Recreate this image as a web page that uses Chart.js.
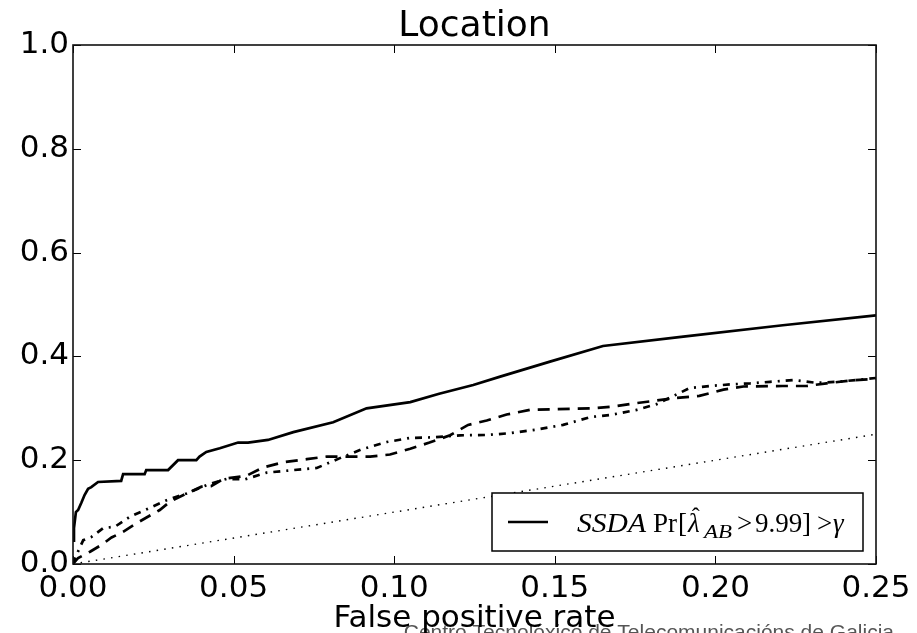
<!DOCTYPE html>
<html><head><meta charset="utf-8">
<script src="https://cdn.jsdelivr.net/npm/chart.js@4.4.1/dist/chart.umd.min.js"></script>
<style>html,body{margin:0;padding:0;background:#fff;overflow:hidden}</style>
</head><body>
<canvas id="c" width="917" height="633"></canvas>
<script>
// ---- data ----
const titleText = 'Location';
const xAxisTitle = 'False positive rate';
const watermarkText = 'Centro Tecnolóxico de Telecomunicacións de Galicia';
const xTickLabels = ['0.00', '0.05', '0.10', '0.15', '0.20', '0.25'];
const yTickLabels = ['0.0', '0.2', '0.4', '0.6', '0.8', '1.0'];
const seriesLabels = ['SSDA Pr[λ̂AB>9.99]>γ', 'dashed curve', 'dash-dot curve', 'chance'];

const ssdaX = [0, 0.0003, 0.0009, 0.0016, 0.0026, 0.0036, 0.0047, 0.0057, 0.0078, 0.015, 0.0156, 0.0223, 0.0228, 0.0296, 0.0327, 0.0384, 0.0394, 0.0415, 0.0457, 0.0514, 0.0545, 0.0607, 0.0686, 0.081, 0.0914, 0.105, 0.114, 0.1246, 0.133, 0.1485, 0.165, 0.19, 0.221, 0.25];
const ssdaY = [0.045, 0.069, 0.100, 0.104, 0.118, 0.133, 0.145, 0.148, 0.158, 0.160, 0.173, 0.173, 0.181, 0.181, 0.200, 0.200, 0.207, 0.216, 0.223, 0.234, 0.234, 0.239, 0.254, 0.273, 0.300, 0.312, 0.328, 0.345, 0.361, 0.390, 0.420, 0.438, 0.460, 0.479];

const dashedX = [0, 0.0006, 0.0016, 0.0053, 0.0088, 0.012, 0.0156, 0.0188, 0.0233, 0.027, 0.0302, 0.0354, 0.040, 0.043, 0.0468, 0.054, 0.0592, 0.0655, 0.0728, 0.079, 0.0925, 0.0987, 0.105, 0.111, 0.1174, 0.123, 0.1288, 0.135, 0.1423, 0.1495, 0.162, 0.169, 0.1755, 0.188, 0.195, 0.2025, 0.2087, 0.221, 0.2284, 0.2346, 0.242, 0.25];
const dashedY = [0, 0.0044, 0.0116, 0.0237, 0.0366, 0.051, 0.062, 0.075, 0.091, 0.104, 0.120, 0.136, 0.149, 0.150, 0.164, 0.170, 0.186, 0.196, 0.202, 0.207, 0.207, 0.211, 0.222, 0.234, 0.248, 0.268, 0.2765, 0.288, 0.297, 0.298, 0.300, 0.304, 0.310, 0.320, 0.324, 0.336, 0.342, 0.343, 0.343, 0.348, 0.3536, 0.3565];

const dashDotX = [0, 0.0009, 0.0032, 0.0057, 0.0094, 0.0131, 0.0177, 0.0224, 0.0292, 0.0354, 0.0416, 0.0478, 0.0535, 0.0603, 0.0686, 0.0759, 0.0831, 0.0899, 0.0977, 0.105, 0.1122, 0.1205, 0.1288, 0.136, 0.1444, 0.1526, 0.161, 0.1672, 0.1755, 0.1817, 0.188, 0.192, 0.1984, 0.2045, 0.2108, 0.217, 0.2243, 0.2315, 0.2378, 0.244, 0.25];
const dashDotY = [0, 0.015, 0.046, 0.052, 0.069, 0.072, 0.091, 0.104, 0.123, 0.136, 0.152, 0.164, 0.163, 0.176, 0.181, 0.185, 0.204, 0.221, 0.235, 0.243, 0.244, 0.248, 0.2486, 0.252, 0.259, 0.268, 0.283, 0.287, 0.297, 0.308, 0.327, 0.339, 0.343, 0.346, 0.348, 0.351, 0.3545, 0.349, 0.351, 0.3545, 0.3584];

const chanceX = [0, 0.25];
const chanceY = [0, 0.25];

// legend text pieces (math-formatted label of the first series)
const legendRuns = [
  {t: 'SSDA', italic: true, dx: 85, w: 69},
  {t: 'Pr', dx: 161},
  {t: '[', dx: 186},
  {t: 'λ', italic: true, dx: 196, hat: true},
  {t: 'AB', italic: true, sub: true, dx: 212, w: 28},
  {t: '>', dx: 245},
  {t: '9.99', dx: 263},
  {t: ']', dx: 310},
  {t: '>', dx: 325},
  {t: 'γ', italic: true, dx: 341}
];

const zip = (xs, ys) => xs.map((x, i) => ({x: x, y: ys[i]}));

const decorPlugin = {
  id: 'decor',
  beforeDraw(chart) {
    const ctx = chart.ctx;
    ctx.save();
    ctx.fillStyle = '#fff';
    ctx.fillRect(0, 0, chart.width, chart.height);
    ctx.font = '21px "Liberation Sans"';
    ctx.fillStyle = '#555';
    ctx.textAlign = 'right';
    ctx.textBaseline = 'alphabetic';
    ctx.fillText(watermarkText, 894, 639);
    ctx.restore();
  },
  afterDatasetsDraw(chart) {
    const ctx = chart.ctx;
    const a = chart.chartArea;
    const xs = chart.scales.x, ys = chart.scales.y;
    ctx.save();
    // inward ticks
    ctx.strokeStyle = '#000';
    ctx.lineWidth = 1;
    const tl = 8;
    xs.ticks.forEach(t => {
      const p = Math.round(xs.getPixelForValue(t.value)) + 0.5;
      ctx.beginPath();
      ctx.moveTo(p, a.bottom); ctx.lineTo(p, a.bottom - tl);
      ctx.moveTo(p, a.top); ctx.lineTo(p, a.top + tl);
      ctx.stroke();
    });
    ys.ticks.forEach(t => {
      const p = Math.round(ys.getPixelForValue(t.value)) + 0.5;
      ctx.beginPath();
      ctx.moveTo(a.left, p); ctx.lineTo(a.left + tl, p);
      ctx.moveTo(a.right, p); ctx.lineTo(a.right - tl, p);
      ctx.stroke();
    });
    // frame
    ctx.lineWidth = 1.6;
    ctx.strokeStyle = '#111';
    ctx.strokeRect(a.left, a.top, a.right - a.left, a.bottom - a.top);

    // legend box (bottom-right inside axes)
    const bw = 371, bh = 58;
    const bx = a.right - 13 - bw, by = a.bottom - 13 - bh;
    ctx.fillStyle = '#fff';
    ctx.fillRect(bx, by, bw, bh);
    ctx.lineWidth = 1.5;
    ctx.strokeStyle = '#000';
    ctx.strokeRect(bx, by, bw, bh);
    const ds = chart.data.datasets[0];
    ctx.beginPath();
    ctx.lineWidth = ds.borderWidth;
    ctx.strokeStyle = ds.borderColor;
    ctx.moveTo(bx + 16, by + 29); ctx.lineTo(bx + 56, by + 29);
    ctx.stroke();
    ctx.fillStyle = '#000';
    ctx.textAlign = 'left';
    ctx.textBaseline = 'alphabetic';
    const base = by + 39;
    legendRuns.forEach(r => {
      const size = r.sub ? 19 : 27;
      ctx.font = (r.italic ? 'italic ' : '') + size + 'px "Liberation Serif"';
      const y = r.sub ? base + 6 : base;
      const mw = ctx.measureText(r.t).width;
      if (r.w) {
        ctx.save();
        ctx.translate(bx + r.dx, y);
        ctx.scale(r.w / mw, 1);
        ctx.fillText(r.t, 0, 0);
        ctx.restore();
      } else {
        ctx.fillText(r.t, bx + r.dx, y);
      }
      if (r.hat) {
        ctx.font = '24px "Liberation Serif"';
        ctx.textAlign = 'center';
        ctx.fillText('ˆ', bx + r.dx + mw / 2 + 2, base - 8);
        ctx.textAlign = 'left';
      }
    });
    ctx.restore();
  }
};

new Chart(document.getElementById('c'), {
  type: 'line',
  data: {
    datasets: [
      {label: seriesLabels[0], data: zip(ssdaX, ssdaY), borderColor: '#000', borderWidth: 2.7, pointRadius: 0, tension: 0, fill: false},
      {label: seriesLabels[1], data: zip(dashedX, dashedY), borderColor: '#000', borderWidth: 2.7, borderDash: [12, 8], pointRadius: 0, tension: 0, fill: false},
      {label: seriesLabels[2], data: zip(dashDotX, dashDotY), borderColor: '#000', borderWidth: 2.7, borderDash: [7, 6, 2, 6], pointRadius: 0, tension: 0, fill: false},
      {label: seriesLabels[3], data: zip(chanceX, chanceY), borderColor: '#000', borderWidth: 1.4, borderDash: [1.5, 6.2], pointRadius: 0, tension: 0, fill: false}
    ]
  },
  options: {
    responsive: false,
    animation: false,
    devicePixelRatio: 1,
    events: [],
    layout: {padding: {left: 0, right: 41, top: 0, bottom: 0}},
    plugins: {
      legend: {display: false},
      tooltip: {enabled: false},
      title: {
        display: true, text: titleText, color: '#000', fullSize: false,
        font: {family: 'DejaVu Sans', size: 36, weight: 'normal', lineHeight: 1.0},
        padding: {top: 8.6, bottom: 0.4}
      }
    },
    scales: {
      x: {
        type: 'linear', min: 0, max: 0.25,
        grid: {display: false, drawTicks: false},
        border: {display: false},
        ticks: {stepSize: 0.05, padding: 6, color: '#000', maxRotation: 0, autoSkip: false,
          font: {family: 'DejaVu Sans', size: 31},
          callback: (v, i) => xTickLabels[i]},
        title: {display: true, text: xAxisTitle, color: '#000',
          font: {family: 'DejaVu Sans', size: 31, lineHeight: 0.7},
          padding: {top: 0, bottom: 3}},
        afterFit: s => { s.height = 69; }
      },
      y: {
        type: 'linear', min: 0, max: 1,
        grid: {display: false, drawTicks: false},
        border: {display: false},
        ticks: {stepSize: 0.2, padding: 4, color: '#000',
          font: {family: 'DejaVu Sans', size: 31},
          callback: (v, i) => yTickLabels[i]},
        afterFit: s => { s.width = 73; }
      }
    }
  },
  plugins: [decorPlugin]
});
</script>
</body></html>
